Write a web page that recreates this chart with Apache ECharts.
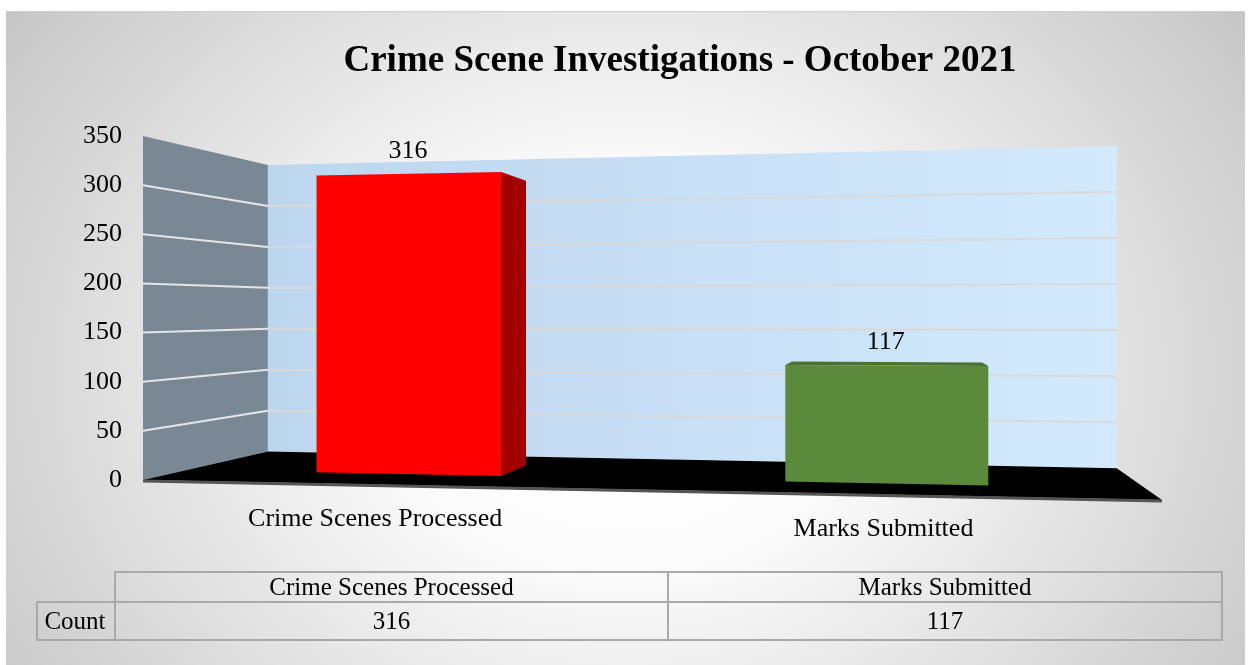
<!DOCTYPE html>
<html>
<head>
<meta charset="utf-8">
<script src="https://cdn.jsdelivr.net/npm/echarts@6/dist/echarts.min.js"></script>
<style>
html, body { margin: 0; padding: 0; background: #fff; }
#main { width: 1248px; height: 665px; }
</style>
</head>
<body>
<div id="main"></div>
<script>
// data
var categories = ['Crime Scenes Processed', 'Marks Submitted'];
var counts = [316, 117];
var rowName = 'Count';
var yTicks = [0, 50, 100, 150, 200, 250, 300, 350];
var chartTitle = 'Crime Scene Investigations - October 2021';

var FONT = "'Liberation Serif', 'Times New Roman', serif";
var faceColors = ['#ff0000', '#5b8a3c'];
var sideColors = ['#a30000', '#44692c'];
var topColors = ['#c00000', '#4a7331'];

// fake perspective: front plane corners, vanishing point, depths
var plane = { bl: [143, 480], br: [1162, 500], tl: [143, 136], tr: [1162, 113] };
var VP = [891, 310];
var WALL_D = 0.167, BAR_D0 = 0.06, BAR_D1 = 0.12;
var BAR_RATIO = 0.405;

function warpX(u) { return u / (1 + 0.1 * (1 - u)); }

// flat grid point -> screen point at depth d
function project(cs, px, py, d) {
    var u = (px - cs.x) / cs.width;
    var t = (cs.y + cs.height - py) / cs.height;
    var g = warpX(u);
    var x = plane.bl[0] + g * (plane.br[0] - plane.bl[0]);
    var yb = plane.bl[1] + g * (plane.br[1] - plane.bl[1]);
    var yt = plane.tl[1] + g * (plane.tr[1] - plane.tl[1]);
    var y = yb + t * (yt - yb);
    return [x + d * (VP[0] - x), y + d * (VP[1] - y)];
}

function seg(a, b, color) {
    return { type: 'line', shape: { x1: a[0], y1: a[1], x2: b[0], y2: b[1] }, style: { stroke: color, lineWidth: 2 } };
}

function renderWalls(params, api) {
    var cs = params.coordSys;
    var left = cs.x, right = cs.x + cs.width;
    var top = api.coord([0, yTicks[yTicks.length - 1]])[1];
    var base = api.coord([0, 0])[1];
    var children = [];
    children.push({
        type: 'polygon',
        shape: { points: [project(cs, left, top, 0), project(cs, left, top, WALL_D), project(cs, left, base, WALL_D), project(cs, left, base, 0)] },
        style: { fill: '#7a8896' }
    });
    children.push({
        type: 'polygon',
        shape: { points: [project(cs, left, top, WALL_D), project(cs, right, top, WALL_D), project(cs, right, base, WALL_D), project(cs, left, base, WALL_D)] },
        style: {
            fill: new echarts.graphic.LinearGradient(0, 0, 1, 0, [
                { offset: 0, color: '#bcd6ee' },
                { offset: 1, color: '#d3eafc' }
            ])
        }
    });
    yTicks.forEach(function (v) {
        if (v === 0 || v === yTicks[yTicks.length - 1]) return;
        var y = api.coord([0, v])[1];
        children.push(seg(project(cs, left, y, 0), project(cs, left, y, WALL_D), '#e4e6e9'));
        children.push(seg(project(cs, left, y, WALL_D), project(cs, right, y, WALL_D), '#d9d9d9'));
    });
    // floor
    children.push({
        type: 'polygon',
        shape: { points: [project(cs, left, base, 0), project(cs, left, base, WALL_D), project(cs, right, base, WALL_D), project(cs, right, base, 0)] },
        style: { fill: '#000' }
    });
    var fl = project(cs, left, base, 0), fr = project(cs, right, base, 0);
    children.push({
        type: 'line',
        shape: { x1: fl[0], y1: fl[1] + 1, x2: fr[0], y2: fr[1] + 1 },
        style: { stroke: '#555', lineWidth: 3 }
    });
    return { type: 'group', children: children };
}

function renderBar(params, api) {
    var cs = params.coordSys;
    var i = api.value(0);
    var cx = api.coord([i, 0])[0] - 3;
    var base = api.coord([i, 0])[1];
    var top = api.coord([i, api.value(1)])[1];
    var half = api.size([1, 0])[0] * BAR_RATIO / 2;
    var fl = [project(cs, cx - half, base, BAR_D0), project(cs, cx - half, top, BAR_D0)];
    var fr = [project(cs, cx + half, base, BAR_D0), project(cs, cx + half, top, BAR_D0)];
    var bl = [project(cs, cx - half, base, BAR_D1), project(cs, cx - half, top, BAR_D1)];
    var br = [project(cs, cx + half, base, BAR_D1), project(cs, cx + half, top, BAR_D1)];
    var children = [];
    if (fr[1][0] < VP[0]) {
        children.push({ type: 'polygon', shape: { points: [fr[0], fr[1], br[1], br[0]] }, style: { fill: sideColors[i] } });
    }
    if (fl[1][0] > VP[0]) {
        children.push({ type: 'polygon', shape: { points: [fl[0], fl[1], bl[1], bl[0]] }, style: { fill: sideColors[i] } });
    }
    if (fl[1][1] > VP[1]) {
        children.push({ type: 'polygon', shape: { points: [fl[1], fr[1], br[1], bl[1]] }, style: { fill: topColors[i] } });
    }
    children.push({ type: 'polygon', shape: { points: [fl[0], fr[0], fr[1], fl[1]] }, style: { fill: faceColors[i] } });
    var lab = project(cs, cx, top, BAR_D0);
    children.push({
        type: 'text', x: lab[0], y: lab[1] - 23,
        style: { text: String(api.value(1)), font: '26px ' + FONT, fill: '#000', align: 'center', verticalAlign: 'middle' }
    });
    var cat = project(cs, cx, base, 0);
    children.push({
        type: 'text', x: cat[0] - 2, y: cat[1] + 35,
        style: { text: categories[i], font: '26px ' + FONT, fill: '#000', align: 'center', verticalAlign: 'middle' }
    });
    return { type: 'group', children: children };
}

// bottom data table
var tableX = [115, 668, 1222], countX = 37, rowY = [572, 602, 640];
var cellStyle = { fill: 'none', stroke: '#a9a9a9', lineWidth: 2 };
var tableEls = [];
function cellText(x, y, text) {
    return { type: 'text', x: x, y: y, style: { text: text, font: '25px ' + FONT, fill: '#000', align: 'center', verticalAlign: 'middle' } };
}
categories.forEach(function (c, i) {
    var w = tableX[i + 1] - tableX[i], mid = (tableX[i] + tableX[i + 1]) / 2;
    tableEls.push({ type: 'rect', shape: { x: tableX[i], y: rowY[0], width: w, height: rowY[1] - rowY[0] }, style: cellStyle });
    tableEls.push({ type: 'rect', shape: { x: tableX[i], y: rowY[1], width: w, height: rowY[2] - rowY[1] }, style: cellStyle });
    tableEls.push(cellText(mid, (rowY[0] + rowY[1]) / 2 + 1, c));
    tableEls.push(cellText(mid, (rowY[1] + rowY[2]) / 2 + 1, String(counts[i])));
});
tableEls.push({ type: 'rect', shape: { x: countX, y: rowY[1], width: tableX[0] - countX, height: rowY[2] - rowY[1] }, style: cellStyle });
tableEls.push(cellText((countX + tableX[0]) / 2 - 1, (rowY[1] + rowY[2]) / 2 + 1, rowName));

// elliptical radial background: draw a taller rect and squash it
var bgRx = 780, bgRy = 640;
var bgH = 654 * bgRx / bgRy;

var myChart = echarts.init(document.getElementById('main'));
var option = {
    animation: false,
    graphic: [
        {
            type: 'rect', z: -10, silent: true,
            x: 6, y: 11, scaleY: bgRy / bgRx,
            shape: { x: 0, y: 0, width: 1239, height: bgH },
            style: {
                fill: new echarts.graphic.RadialGradient(618 / 1239, (360 * bgRx / bgRy) / bgH, bgRx / bgH, [
                    { offset: 0, color: '#ffffff' },
                    { offset: 0.3, color: '#fcfcfc' },
                    { offset: 1, color: '#c4c4c4' }
                ])
            }
        },
        {
            type: 'line', z: -9, silent: true,
            shape: { x1: 6, y1: 11.5, x2: 1245, y2: 11.5 },
            style: { stroke: '#d0d0d0', lineWidth: 1 }
        },
        {
            type: 'text', x: 680, y: 61,
            style: { text: chartTitle, font: 'bold 37px ' + FONT, fill: '#000', align: 'center', verticalAlign: 'middle' }
        }
    ].concat(tableEls),
    grid: { left: 143, top: 136, width: 1019, height: 344 },
    xAxis: {
        type: 'category', data: categories,
        axisLine: { show: false }, axisTick: { show: false }, axisLabel: { show: false }
    },
    yAxis: {
        type: 'value', min: 0, max: 350, interval: 50,
        axisLine: { show: false }, axisTick: { show: false }, splitLine: { show: false },
        axisLabel: { margin: 21, fontSize: 26, fontFamily: FONT, color: '#000' }
    },
    series: [
        { type: 'custom', name: 'walls', z: 1, silent: true, renderItem: renderWalls, data: [[0, 0]] },
        { type: 'custom', name: 'Count', z: 2, renderItem: renderBar, data: counts.map(function (v, i) { return [i, v]; }) }
    ]
};
myChart.setOption(option);
window.addEventListener('resize', function () {
    myChart.resize();
});
</script>
</body>
</html>
